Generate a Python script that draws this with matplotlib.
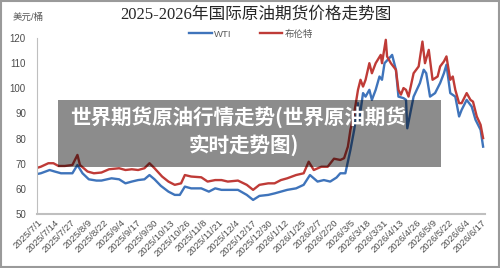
import matplotlib
matplotlib.use("Agg")
import matplotlib.pyplot as plt
import matplotlib.patches as patches
import pandas as pd

plt.rcParams['font.family'] = ['Liberation Sans', 'Noto Sans CJK SC']

title = "2025-2026年国际原油期货价格走势图"
unit_label = "美元/桶"
overlay_lines = ["世界期货原油行情走势(世界原油期货", "实时走势图)"]

brent_dates = [
    "2025-07-01", "2025-07-03", "2025-07-09", "2025-07-13", "2025-07-17", "2025-07-22", "2025-07-28",
    "2025-08-01", "2025-08-03", "2025-08-09", "2025-08-14", "2025-08-20", "2025-08-26",
    "2025-09-03", "2025-09-08", "2025-09-13", "2025-09-18", "2025-09-23", "2025-09-27",
    "2025-10-01", "2025-10-07", "2025-10-12", "2025-10-17", "2025-10-22", "2025-10-25", "2025-10-30",
    "2025-11-07", "2025-11-12", "2025-11-18", "2025-11-23", "2025-11-28",
    "2025-12-06", "2025-12-13", "2025-12-18", "2025-12-23", "2025-12-30",
    "2026-01-04", "2026-01-09", "2026-01-14", "2026-01-21", "2026-01-27", "2026-01-31",
    "2026-02-04", "2026-02-10", "2026-02-15", "2026-02-20", "2026-02-25", "2026-02-28",
    "2026-03-03", "2026-03-05", "2026-03-08", "2026-03-11", "2026-03-13", "2026-03-15", "2026-03-17",
    "2026-03-20", "2026-03-22", "2026-03-25", "2026-03-29", "2026-03-30",
    "2026-04-02", "2026-04-03", "2026-04-06", "2026-04-10", "2026-04-12", "2026-04-14", "2026-04-16",
    "2026-04-18", "2026-04-20", "2026-04-24", "2026-04-28",
    "2026-05-01", "2026-05-03", "2026-05-06", "2026-05-09", "2026-05-13", "2026-05-15", "2026-05-18",
    "2026-05-20", "2026-05-23", "2026-05-25", "2026-05-27", "2026-05-30",
    "2026-06-01", "2026-06-05", "2026-06-08", "2026-06-10", "2026-06-13", "2026-06-16", "2026-06-18",
]
brent_vals = [
    68.5, 68.8, 70.2, 70.2, 69.1, 69.1, 69.5,
    73.5, 69.5, 66.9, 66.2, 66.5, 67.8,
    68.2, 67.5, 67.8, 67.5, 68.2, 70.2,
    68.2, 64.9, 62.9, 61.6, 62.2, 65.5, 64.9,
    64.6, 62.9, 63.5, 63.5, 62.9,
    63.3, 61.6, 59.6, 61.6, 62.2,
    62.2, 63.5, 64.2, 65.5, 66.2, 70.8,
    67.5, 68.8, 68.8, 72.0, 71.5, 72.2,
    76.8, 83.5, 90.1, 99.4, 103.4, 100.7, 103.4,
    110.0, 106.0, 110.0, 113.3, 110.0,
    119.3, 112.7, 110.0, 107.4, 99.4, 97.5, 100.1,
    99.4, 96.7, 106.0, 108.7,
    118.6, 110.0, 115.3, 103.4, 104.7, 108.7, 110.7,
    112.7, 103.4, 104.7, 99.4, 94.1,
    94.1, 98.1, 95.4, 94.7, 88.8, 85.5, 80.2,
]

wti_dates = [
    "2025-07-01", "2025-07-03", "2025-07-10", "2025-07-14", "2025-07-19", "2025-07-28",
    "2025-08-01", "2025-08-05", "2025-08-10", "2025-08-16", "2025-08-20", "2025-08-28",
    "2025-09-03", "2025-09-08", "2025-09-13", "2025-09-18", "2025-09-23", "2025-09-27",
    "2025-10-01", "2025-10-06", "2025-10-12", "2025-10-17", "2025-10-21", "2025-10-25", "2025-10-30",
    "2025-11-07", "2025-11-13", "2025-11-18", "2025-11-23", "2025-11-28",
    "2025-12-06", "2025-12-13", "2025-12-18", "2025-12-23", "2025-12-30",
    "2026-01-04", "2026-01-09", "2026-01-14", "2026-01-21", "2026-01-27",
    "2026-02-01", "2026-02-07", "2026-02-12", "2026-02-17", "2026-02-22", "2026-02-25", "2026-03-01",
    "2026-03-05", "2026-03-08", "2026-03-11", "2026-03-12", "2026-03-15", "2026-03-17",
    "2026-03-20", "2026-03-22", "2026-03-25", "2026-03-28", "2026-03-30",
    "2026-04-01", "2026-04-06", "2026-04-07", "2026-04-10", "2026-04-12", "2026-04-16",
    "2026-04-18", "2026-04-19", "2026-04-24", "2026-04-29",
    "2026-05-02", "2026-05-04", "2026-05-07", "2026-05-11", "2026-05-15", "2026-05-18",
    "2026-05-20", "2026-05-23", "2026-05-27", "2026-05-30",
    "2026-06-01", "2026-06-05", "2026-06-09", "2026-06-12", "2026-06-16", "2026-06-18",
]
wti_vals = [
    66.0, 66.2, 67.5, 66.9, 66.2, 66.2,
    69.5, 66.2, 63.8, 63.3, 63.3, 64.2,
    63.8, 62.2, 62.9, 63.5, 63.8, 65.5,
    63.8, 61.2, 58.9, 57.6, 57.6, 60.9, 60.2,
    60.2, 58.9, 60.2, 59.6, 59.6,
    59.6, 57.6, 55.6, 57.2, 57.6,
    58.2, 58.9, 59.6, 60.2, 61.6,
    65.5, 62.9, 63.5, 62.9, 64.5, 66.2, 66.2,
    75.5, 83.5, 94.1, 87.5, 98.1, 96.7,
    99.4, 95.4, 99.4, 104.7, 103.4,
    110.0, 112.7, 113.3, 107.4, 96.7, 96.1,
    95.4, 84.1, 96.7, 102.1,
    107.4, 106.0, 96.7, 98.1, 102.1, 106.0,
    109.4, 98.1, 96.7, 88.8,
    91.4, 95.4, 92.7, 87.5, 83.5, 76.8,
]

tick_labels = [
    "2025/7/1", "2025/7/14", "2025/7/27", "2025/8/9", "2025/8/22", "2025/9/4", "2025/9/17",
    "2025/9/30", "2025/10/13", "2025/10/26", "2025/11/8", "2025/11/21", "2025/12/4",
    "2025/12/17", "2025/12/30", "2026/1/12", "2026/1/25", "2026/2/7", "2026/2/20",
    "2026/3/5", "2026/3/18", "2026/3/31", "2026/4/13", "2026/4/26", "2026/5/9",
    "2026/5/22", "2026/6/4", "2026/6/17",
]

fig = plt.figure(figsize=(5.0, 2.68), dpi=100)
ax = fig.add_axes([0.074, 0.2015, 0.896, 0.6565])

ax.plot(pd.to_datetime(wti_dates), wti_vals, color='#3f74bb', lw=1.7, label='WTI')
ax.plot(pd.to_datetime(brent_dates), brent_vals, color='#bf3b37', lw=1.7, label='布伦特')

ticks = pd.to_datetime(tick_labels, format="%Y/%m/%d")
ax.set_xticks(ticks)
ax.set_xticklabels(tick_labels, rotation=45, ha='right', rotation_mode='anchor',
                   fontsize=6.8, color='#4d4d4d')
ax.set_xlim(pd.Timestamp("2025-06-30"), pd.Timestamp("2026-06-19 12:00"))
ax.set_ylim(50, 120)
ax.set_yticks(range(50, 121, 10))
ax.tick_params(axis='y', labelsize=7, colors='#4d4d4d', length=0, pad=8)
ax.tick_params(axis='x', length=0, pad=3)

for s in ['top', 'right']:
    ax.spines[s].set_visible(False)
ax.spines['left'].set_color('#bfbfbf')
ax.spines['bottom'].set_color('#bfbfbf')
ax.spines['bottom'].set_linewidth(1.5)

fig.text(0.512, 0.944, title, ha='center', va='center', fontsize=12,
         family=['Liberation Serif', 'Noto Sans CJK SC'], color='#262626')
fig.text(0.026, 0.936, unit_label, ha='left', va='center', fontsize=6.8, color='#595959')

fig.legend(loc='center', bbox_to_anchor=(0.502, 0.873), ncol=2, frameon=False,
           fontsize=6.8, handlelength=2.4, columnspacing=3.0, handletextpad=0.2,
           labelcolor='#595959')

# gray overlay box with white caption
fig.patches.append(patches.Rectangle((0.116, 0.377), 0.766, 0.25, transform=fig.transFigure,
                                     facecolor='black', alpha=0.45, edgecolor='none', zorder=5))
fig.text(0.476, 0.562, overlay_lines[0], ha='center', va='center', fontsize=14.8,
         fontweight='bold', color='white', family=['Noto Sans CJK SC'], zorder=6)
fig.text(0.488, 0.458, overlay_lines[1], ha='center', va='center', fontsize=14.8,
         fontweight='bold', color='white', family=['Noto Sans CJK SC'], zorder=6)

# outer frame
fig.patches.append(patches.Rectangle((0.002, 0.003), 0.996, 0.994, transform=fig.transFigure,
                                     facecolor='none', edgecolor='#9a9a9a', lw=1.5, zorder=7))

fig.savefig("out.png", dpi=100)
